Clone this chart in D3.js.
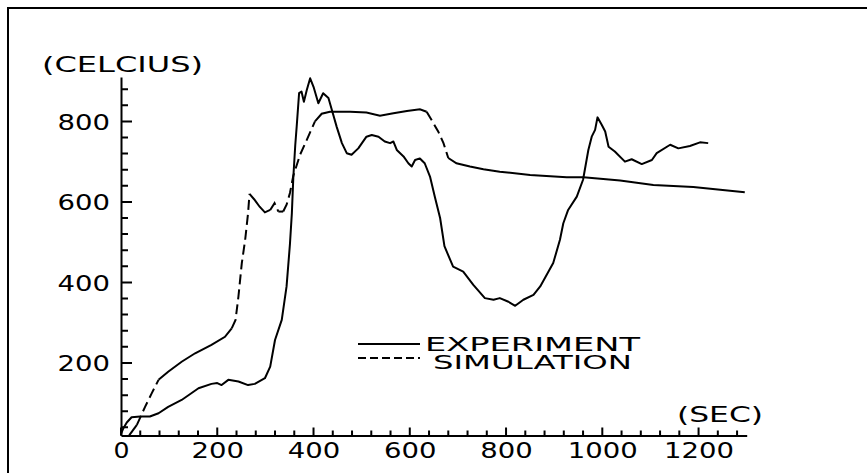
<!DOCTYPE html>
<html>
<head>
<meta charset="utf-8">
<script src="https://cdn.jsdelivr.net/npm/d3@7"></script>
<style>
  body { margin: 0; background: #fff; }
  text { font-family: "DejaVu Sans", sans-serif; font-size: 22px; fill: #000; }
</style>
</head>
<body>
<svg id="chart" width="867" height="473"></svg>
<script>

// experiment (measured) temperature, sec / celcius
let exp_time = [0, 5, 12, 22, 40, 60, 78, 98, 126, 161, 188, 200, 209, 223, 244, 264, 278, 299, 310, 320, 334, 344, 351, 355, 358, 362, 365, 370, 375, 380, 386, 393, 400, 410, 420, 431, 438, 448, 459, 469, 479, 493, 510, 521, 535, 548, 559, 566, 573, 587, 597, 604, 611, 621, 631, 642, 652, 663, 672, 690, 711, 732, 756, 774, 787, 805, 819, 836, 857, 871, 898, 912, 919, 929, 947, 960, 971, 978, 985, 990, 999, 1006, 1013, 1026, 1047, 1061, 1082, 1103, 1113, 1141, 1158, 1182, 1203, 1220];
let exp_temp = [24, 38, 52, 65, 67, 67, 75, 91, 108, 137, 148, 150, 145, 158, 154, 145, 148, 162, 191, 257, 307, 390, 495, 572, 660, 740, 787, 870, 874, 849, 878, 907, 886, 845, 870, 858, 829, 787, 746, 721, 717, 733, 762, 766, 762, 750, 746, 750, 729, 713, 696, 688, 704, 708, 696, 663, 613, 560, 490, 439, 427, 394, 361, 357, 361, 352, 342, 357, 369, 390, 448, 506, 547, 580, 613, 655, 729, 762, 779, 810, 791, 775, 737, 725, 700, 706, 694, 704, 721, 742, 733, 739, 748, 746];

// simulation temperature
let sim_time = [17, 33, 50, 64, 78, 98, 126, 154, 188, 216, 230, 238, 244, 251, 258, 264, 267, 277, 288, 299, 310, 319, 327, 337, 344, 351, 358, 372, 389, 403, 417, 434, 476, 510, 538, 566, 594, 621, 635, 645, 659, 670, 680, 697, 725, 753, 787, 850, 926, 961, 1037, 1106, 1189, 1245, 1296];
let sim_temp = [20, 46, 91, 125, 158, 178, 203, 224, 245, 265, 286, 307, 365, 448, 506, 572, 620, 606, 588, 574, 580, 597, 576, 576, 593, 622, 665, 717, 762, 800, 819, 824, 824, 822, 814, 820, 826, 830, 824, 804, 775, 746, 709, 696, 688, 681, 675, 667, 661, 661, 653, 642, 637, 630, 624];

let x_major = [0, 200, 400, 600, 800, 1000, 1200];
let y_major = [200, 400, 600, 800];
let x_domain = [0, 1300];
let y_domain = [20, 910];

let svg = d3.select("#chart");

let x = d3.scaleLinear().domain(x_domain).range([121, 746.7]);
let y = d3.scaleLinear().domain(y_domain).range([435.4, 77.1]);
let x0 = x(0), y0 = y(y_domain[0]);

// outer frame (scan border)
svg.append("path")
    .attr("d", "M8,473V8H867")
    .attr("fill", "none").attr("stroke", "#000").attr("stroke-width", 2);

// tick marks every 40, the 200s longer; x ticks point up, y ticks point right
let x_ticks = d3.range(0, 1300, 40).concat(x_major.filter(d => d % 40 != 0));
let y_ticks = d3.range(40, 910, 40).concat(y_major.filter(d => d % 40 != 0));

let tick_path = "";
x_ticks.forEach(d => {
    tick_path += "M" + x(d) + "," + y0 + "V" + (y0 - (x_major.includes(d) ? 8 : 5));
});
y_ticks.forEach(d => {
    tick_path += "M" + x0 + "," + y(d) + "H" + (x0 + (y_major.includes(d) ? 11 : 7));
});
svg.append("path").attr("class", "ticks").attr("d", tick_path)
    .attr("fill", "none").attr("stroke", "#000").attr("stroke-width", 2);

// axes: domain line + labels from d3
let gx = svg.append("g").attr("transform", "translate(0," + y0 + ")")
    .call(d3.axisBottom(x).tickValues(x_major).tickSize(0).tickPadding(5).tickFormat(d3.format("d")));
let gy = svg.append("g").attr("transform", "translate(" + x0 + ",0)")
    .call(d3.axisLeft(y).tickValues(y_major).tickSize(0).tickPadding(11).tickFormat(d3.format("d")));

svg.selectAll(".domain").attr("stroke", "#000").attr("stroke-width", 2);
svg.selectAll(".tick text")
    .attr("font-family", "DejaVu Sans").attr("font-size", 22)
    .attr("lengthAdjust", "spacingAndGlyphs")
    .attr("textLength", d => d == 0 ? 16 : String(d).length * 17.5);
gx.selectAll(".tick text").attr("dy", "0.78em");
gy.selectAll(".tick text").attr("dy", "0.36em");

// axis titles
svg.append("text").attr("x", 42).attr("y", 72)
    .attr("textLength", 161).attr("lengthAdjust", "spacingAndGlyphs").text("(CELCIUS)");
svg.append("text").attr("x", 677).attr("y", 422)
    .attr("textLength", 86).attr("lengthAdjust", "spacingAndGlyphs").text("(SEC)");

let line = d3.line().x(d => d[0]).y(d => d[1]);

// experiment, solid
let exp_pts = exp_time.map((t, i) => [x(t), y(exp_temp[i])]);
svg.append("path").attr("d", line(exp_pts))
    .attr("fill", "none").attr("stroke", "#000").attr("stroke-width", 2)
    .attr("stroke-linejoin", "round");

// simulation: the plotter dashes only show on the steep parts
let sim_pts = sim_time.map((t, i) => [x(t), y(sim_temp[i])]);
let runs = [];
for (let i = 1; i < sim_pts.length; i++) {
    let dx = sim_pts[i][0] - sim_pts[i-1][0];
    let dy = sim_pts[i][1] - sim_pts[i-1][1];
    let steep = Math.abs(dy / dx) > 1.5;
    let last = runs[runs.length - 1];
    if (last && last.steep == steep) {
        last.pts.push(sim_pts[i]);
    } else {
        runs.push({steep: steep, pts: [sim_pts[i-1], sim_pts[i]]});
    }
}
svg.selectAll(".sim").data(runs).enter().append("path")
    .attr("class", "sim")
    .attr("d", d => line(d.pts))
    .attr("fill", "none").attr("stroke", "#000").attr("stroke-width", 2)
    .attr("stroke-dasharray", d => d.steep ? "10,5" : null);

// legend
let legend = svg.append("g");
legend.append("line").attr("x1", 358).attr("x2", 420).attr("y1", 344).attr("y2", 344)
    .attr("stroke", "#000").attr("stroke-width", 2);
legend.append("line").attr("x1", 358).attr("x2", 420).attr("y1", 358).attr("y2", 358)
    .attr("stroke", "#000").attr("stroke-width", 2).attr("stroke-dasharray", "8,4");
legend.append("text").attr("x", 425).attr("y", 351).style("font-size", "20px")
    .attr("textLength", 215).attr("lengthAdjust", "spacingAndGlyphs").text("EXPERIMENT");
legend.append("text").attr("x", 433).attr("y", 369).style("font-size", "20px")
    .attr("textLength", 199).attr("lengthAdjust", "spacingAndGlyphs").text("SIMULATION");

</script>
</body>
</html>
